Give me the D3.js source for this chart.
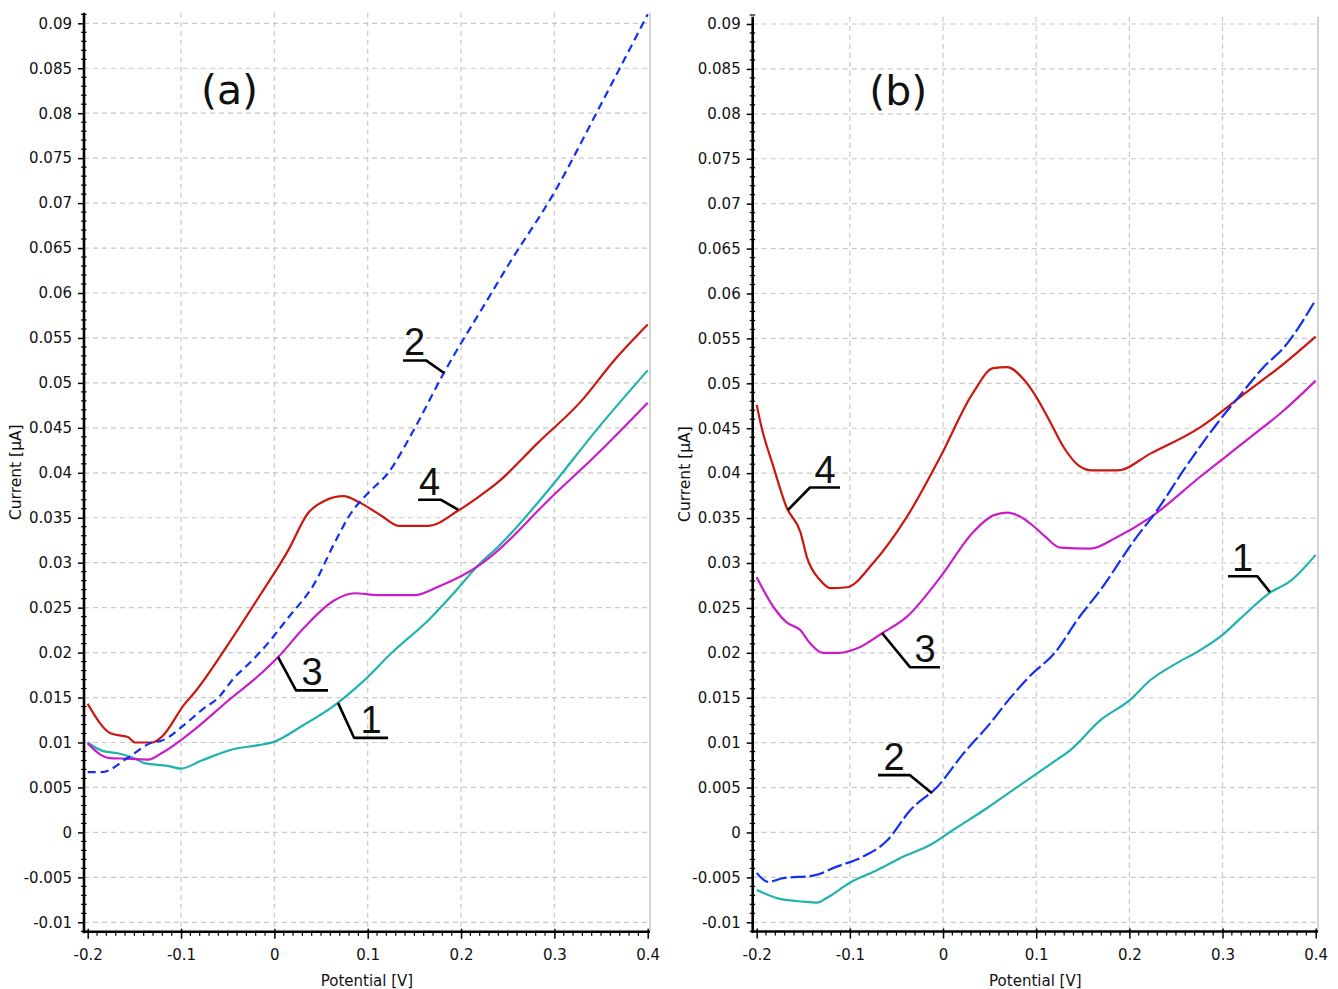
<!DOCTYPE html>
<html><head><meta charset="utf-8">
<script src="https://cdn.jsdelivr.net/npm/d3@7"></script>
<style>body{margin:0;background:#fff} svg{display:block}</style>
</head><body>
<svg id="chart" width="1338" height="989"></svg>
<script>
// ---------- tick values / labels ----------
const xTickValues = [-0.2, -0.1, 0, 0.1, 0.2, 0.3, 0.4];
const xTickLabels = ["-0.2", "-0.1", "0", "0.1", "0.2", "0.3", "0.4"];
const yTickValues = [-0.01, -0.005, 0, 0.005, 0.01, 0.015, 0.02, 0.025, 0.03, 0.035, 0.04, 0.045, 0.05, 0.055, 0.06, 0.065, 0.07, 0.075, 0.08, 0.085, 0.09];
const yTickLabels = ["-0.01", "-0.005", "0", "0.005", "0.01", "0.015", "0.02", "0.025", "0.03", "0.035", "0.04", "0.045", "0.05", "0.055", "0.06", "0.065", "0.07", "0.075", "0.08", "0.085", "0.09"];
const xTitle = "Potential [V]";
const yTitle = "Current [µA]";
const panelNames = ["(a)", "(b)"];
const curveNames = ["1", "2", "3", "4"];

// ---------- panel (a) series ----------
const a1x = [-0.2, -0.185, -0.168, -0.149, -0.139, -0.114, -0.1, -0.078, -0.042, -0.017, 0.0, 0.029, 0.064, 0.093, 0.128, 0.165, 0.192, 0.221, 0.24, 0.293, 0.347, 0.4];
const a1y = [0.0100, 0.0091, 0.0088, 0.0082, 0.0077, 0.0074, 0.0071, 0.0080, 0.0093, 0.0097, 0.0101, 0.0118, 0.0141, 0.0166, 0.0202, 0.0236, 0.0266, 0.0300, 0.0318, 0.0380, 0.0450, 0.0514];

const a2x = [-0.2, -0.185, -0.157, -0.131, -0.121, -0.095, -0.078, -0.06, -0.043, -0.026, -0.014, 0.015, 0.043, 0.064, 0.082, 0.1, 0.122, 0.149, 0.181, 0.228, 0.25, 0.3, 0.35, 0.4];
const a2y = [0.0067, 0.0067, 0.0083, 0.0100, 0.0102, 0.0121, 0.0136, 0.0150, 0.0172, 0.0189, 0.0202, 0.0239, 0.0277, 0.0321, 0.0355, 0.0377, 0.0400, 0.0447, 0.0510, 0.0592, 0.0630, 0.0712, 0.0810, 0.0910];

const a3x = [-0.2, -0.178, -0.16, -0.135, -0.121, -0.086, -0.049, -0.014, 0.004, 0.032, 0.064, 0.086, 0.111, 0.15, 0.175, 0.222, 0.24, 0.293, 0.347, 0.4];
const a3y = [0.0099, 0.0083, 0.0082, 0.0081, 0.0088, 0.0114, 0.0147, 0.0177, 0.0195, 0.0228, 0.0258, 0.0266, 0.0264, 0.0264, 0.0273, 0.0299, 0.0314, 0.0369, 0.0422, 0.0478];

const a4x = [-0.2, -0.175, -0.157, -0.149, -0.131, -0.121, -0.096, -0.086, -0.049, -0.014, 0.015, 0.036, 0.054, 0.074, 0.093, 0.115, 0.133, 0.165, 0.197, 0.221, 0.24, 0.282, 0.329, 0.364, 0.4];
const a4y = [0.0143, 0.0110, 0.0106, 0.0100, 0.0100, 0.0106, 0.0143, 0.0155, 0.0210, 0.0266, 0.0314, 0.0355, 0.0369, 0.0374, 0.0366, 0.0352, 0.0341, 0.0341, 0.0358, 0.0375, 0.0390, 0.0433, 0.0480, 0.0525, 0.0565];

// ---------- panel (b) series ----------
const b1x = [-0.2, -0.175, -0.15, -0.135, -0.125, -0.1, -0.071, -0.043, -0.014, 0.011, 0.047, 0.083, 0.118, 0.137, 0.169, 0.2, 0.223, 0.25, 0.276, 0.3, 0.319, 0.351, 0.373, 0.4];
const b1y = [-0.0064, -0.0074, -0.0077, -0.0078, -0.0073, -0.0056, -0.0042, -0.0027, -0.0014, 0.0003, 0.0027, 0.0053, 0.0078, 0.0092, 0.0125, 0.0147, 0.0170, 0.0188, 0.0203, 0.0220, 0.0238, 0.0267, 0.0280, 0.0309];

const b2x = [-0.2, -0.188, -0.172, -0.139, -0.114, -0.086, -0.06, -0.035, -0.006, 0.022, 0.051, 0.07, 0.094, 0.12, 0.145, 0.169, 0.205, 0.23, 0.258, 0.294, 0.323, 0.344, 0.366, 0.4];
const b2y = [-0.0045, -0.0055, -0.0051, -0.0048, -0.0038, -0.0027, -0.0009, 0.0025, 0.0051, 0.0088, 0.0122, 0.0147, 0.0175, 0.0200, 0.0238, 0.0270, 0.0325, 0.0359, 0.0403, 0.0455, 0.0492, 0.0518, 0.0540, 0.0593];

const b3x = [-0.2, -0.182, -0.168, -0.153, -0.143, -0.129, -0.111, -0.092, -0.065, -0.039, -0.003, 0.032, 0.054, 0.069, 0.082, 0.096, 0.11, 0.126, 0.158, 0.187, 0.223, 0.276, 0.33, 0.366, 0.4];
const b3y = [0.0284, 0.0251, 0.0234, 0.0225, 0.0211, 0.0200, 0.0200, 0.0205, 0.0222, 0.0240, 0.0284, 0.0334, 0.0353, 0.0356, 0.0352, 0.0342, 0.0329, 0.0317, 0.0316, 0.0329, 0.0351, 0.0396, 0.0440, 0.0470, 0.0503];

const b4x = [-0.2, -0.195, -0.182, -0.168, -0.153, -0.146, -0.132, -0.121, -0.103, -0.075, -0.039, -0.003, 0.032, 0.054, 0.069, 0.086, 0.1, 0.115, 0.13, 0.145, 0.16, 0.187, 0.223, 0.276, 0.323, 0.366, 0.4];
const b4y = [0.0476, 0.0452, 0.0407, 0.0362, 0.0334, 0.0306, 0.0281, 0.0272, 0.0273, 0.0300, 0.0351, 0.0418, 0.0489, 0.0517, 0.0518, 0.0505, 0.0485, 0.0457, 0.0428, 0.0409, 0.0403, 0.0403, 0.0422, 0.0451, 0.0488, 0.0522, 0.0552];

// ---------- annotation leaders (data units): tip on curve, elbow, end of underline ----------
const notesA = [
  {label: "1", tip: [0.0682, 0.01441], elbow: [0.0854, 0.01052], end: 0.1218},
  {label: "2", tip: [0.1818, 0.0511], elbow: [0.1625, 0.0525], end: 0.1379},
  {label: "3", tip: [0.0040, 0.0195], elbow: [0.0232, 0.0158], end: 0.0575},
  {label: "4", tip: [0.1968, 0.0359], elbow: [0.1786, 0.0370], end: 0.1540}
];
const notesB = [
  {label: "1", tip: [0.3509, 0.02675], elbow: [0.3372, 0.02853], end: 0.3059},
  {label: "2", tip: [-0.0118, 0.00437], elbow: [-0.0355, 0.00638], end: -0.0698},
  {label: "3", tip: [-0.0655, 0.0222], elbow: [-0.0355, 0.0184], end: -0.0033},
  {label: "4", tip: [-0.1664, 0.0359], elbow: [-0.1428, 0.0384], end: -0.1106}
];
const panelLabelPos = [-0.048, 0.0810];

// ---------- styles ----------
const colors = {c1: "#1fb3ae", c2: "#1230f0", c3: "#c81ec8", c4: "#cc1610"};

const panels = [
  {name: panelNames[0], xRange: [87.7, 647.7], yRange: [922.3, 23.3], axisX: 84, right: 650, top: 12.7, bottom: 931.7,
   series: [[a1x, a1y, colors.c1, null], [a3x, a3y, colors.c3, null], [a4x, a4y, colors.c4, null], [a2x, a2y, colors.c2, "8,5"]],
   notes: notesA},
  {name: panelNames[1], xRange: [756.7, 1315.7], yRange: [922.3, 24], axisX: 752.7, right: 1318, top: 16.7, bottom: 931.5,
   series: [[b1x, b1y, colors.c1, null], [b3x, b3y, colors.c3, null], [b4x, b4y, colors.c4, null], [b2x, b2y, colors.c2, "15,4"]],
   notes: notesB}
];

const svg = d3.select("#chart");
const font = "'DejaVu Sans', Verdana, sans-serif";

panels.forEach(p => {
  const x = d3.scaleLinear().domain([-0.2, 0.4]).range(p.xRange);
  const y = d3.scaleLinear().domain([-0.01, 0.09]).range(p.yRange);
  const g = svg.append("g");

  // grid
  const grid = g.append("g").attr("stroke", "#c9c9c9").attr("stroke-width", 1.2).attr("stroke-dasharray", "5,4");
  grid.selectAll("line.h").data(yTickValues).join("line")
    .attr("x1", p.axisX).attr("x2", p.right).attr("y1", d => y(d)).attr("y2", d => y(d));
  grid.selectAll("line.v").data(xTickValues.filter(v => v > -0.15 && v < 0.35)).join("line")
    .attr("x1", d => x(d)).attr("x2", d => x(d)).attr("y1", p.top).attr("y2", p.bottom);
  g.append("line").attr("x1", p.right).attr("x2", p.right).attr("y1", p.top).attr("y2", p.bottom)
    .attr("stroke", "#c4c4c4").attr("stroke-width", 1.5);

  // series
  const line = d3.line().x(d => x(d[0])).y(d => y(d[1])).curve(d3.curveMonotoneX);
  p.series.forEach(s => {
    g.append("path").datum(d3.zip(s[0], s[1])).attr("d", line)
      .attr("fill", "none").attr("stroke", s[2]).attr("stroke-width", 2.2)
      .attr("stroke-linejoin", "round")
      .attr("stroke-dasharray", s[3]);
  });

  // minor ticks
  const minorY = d3.range(-11, 92).map(v => v / 1000).filter(v => !yTickValues.some(t => Math.abs(t - v) < 1e-9));
  g.append("g").attr("stroke", "#000").attr("stroke-width", 1.2).selectAll("line").data(minorY).join("line")
    .attr("x1", p.axisX - 3).attr("x2", p.axisX + 2.5).attr("y1", d => y(d)).attr("y2", d => y(d));
  const minorX = d3.range(-20, 41).map(v => v / 100).filter(v => !xTickValues.some(t => Math.abs(t - v) < 1e-9));
  g.append("g").attr("stroke", "#000").attr("stroke-width", 1.2).selectAll("line").data(minorX).join("line")
    .attr("x1", d => x(d)).attr("x2", d => x(d)).attr("y1", p.bottom).attr("y2", p.bottom + 4);

  // y axis
  const yAxis = d3.axisLeft(y).tickValues(yTickValues).tickFormat((d, i) => yTickLabels[i]).tickSize(6).tickPadding(6);
  const ya = g.append("g").attr("transform", `translate(${p.axisX},0)`).call(yAxis);
  ya.select(".domain").remove();
  ya.selectAll("line").attr("stroke-width", 1.5);
  ya.selectAll("text").attr("font-family", font).attr("font-size", 15).attr("fill", "#111");
  g.append("line").attr("x1", p.axisX).attr("x2", p.axisX).attr("y1", p.top).attr("y2", p.bottom + 1.5)
    .attr("stroke", "#000").attr("stroke-width", 2.6);

  // x axis
  const xAxis = d3.axisBottom(x).tickValues(xTickValues).tickFormat((d, i) => xTickLabels[i]).tickSize(7).tickPadding(11);
  const xa = g.append("g").attr("transform", `translate(0,${p.bottom})`).call(xAxis);
  xa.select(".domain").remove();
  xa.selectAll("line").attr("stroke-width", 1.5).attr("y1", -3);
  xa.selectAll("text").attr("font-family", font).attr("font-size", 15).attr("fill", "#111");
  g.append("line").attr("x1", p.axisX - 1.3).attr("x2", p.right).attr("y1", p.bottom).attr("y2", p.bottom)
    .attr("stroke", "#000").attr("stroke-width", 2.6);

  // axis titles
  g.append("text").attr("x", (p.axisX + p.right) / 2).attr("y", 986).attr("text-anchor", "middle")
    .attr("font-family", font).attr("font-size", 15).attr("fill", "#111").text(xTitle);
  g.append("text").attr("transform", `translate(${p.axisX - 63},${(p.top + p.bottom) / 2}) rotate(-90)`)
    .attr("text-anchor", "middle").attr("font-family", font).attr("font-size", 15.5).attr("fill", "#111").text(yTitle);

  // panel label
  g.append("text").attr("x", x(panelLabelPos[0])).attr("y", y(panelLabelPos[1])).attr("text-anchor", "middle")
    .attr("font-family", font).attr("font-size", 41).attr("fill", "#111").text(p.name);

  // annotations
  p.notes.forEach(n => {
    const pts = [[x(n.tip[0]), y(n.tip[1])], [x(n.elbow[0]), y(n.elbow[1])], [x(n.end), y(n.elbow[1])]];
    g.append("path").attr("d", d3.line()(pts)).attr("fill", "none").attr("stroke", "#000")
      .attr("stroke-width", 2.6).attr("stroke-linejoin", "round");
    g.append("text").attr("x", (pts[1][0] + pts[2][0]) / 2).attr("y", pts[1][1] - 5)
      .attr("text-anchor", "middle").attr("font-family", "'Liberation Sans', Arial, sans-serif")
      .attr("font-size", 38).attr("fill", "#111").text(n.label);
  });
});
</script>
</body></html>
